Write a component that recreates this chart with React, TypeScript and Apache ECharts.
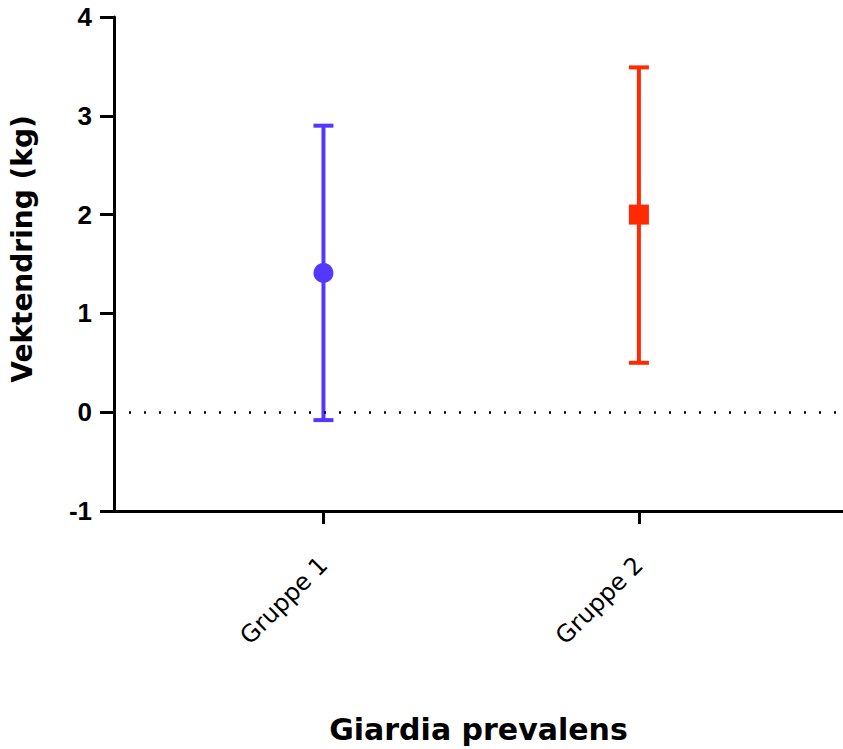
import React, { useEffect, useRef } from "react";
import * as echarts from "echarts";

const groups = ["Gruppe 1", "Gruppe 2"];
const positions = [1, 2];
const means = [1.41, 2.0];
const lower = [-0.08, 0.5];
const upper = [2.9, 3.49];
const colors = ["#5538FF", "#FF2A00"];
const symbols = ["circle", "rect"];
const yTicks = [-1, 0, 1, 2, 3, 4];

export default function App() {
  const ref = useRef<HTMLDivElement>(null);
  useEffect(() => {
    if (!ref.current) return;
    const chart = echarts.init(ref.current, null, { renderer: "svg" });
    const errData = positions.map((p, i) => [p, lower[i], upper[i], i]);
    const option: any = {
      animation: false,
      backgroundColor: "#fff",
      grid: { left: 108, right: 0, top: 17, bottom: 235, containLabel: false },
      xAxis: {
        type: "value",
        min: 0.336,
        max: 2.647,
        splitLine: { show: false },
        axisLine: { show: true, onZero: false, lineStyle: { color: "#000", width: 3 } },
        axisTick: { show: true, customValues: positions, length: 13, lineStyle: { color: "#000", width: 3 } },
        axisLabel: {
          customValues: positions,
          formatter: (v: number) => groups[positions.indexOf(Math.round(v))] ?? "",
          rotate: 45,
          fontSize: 24,
          fontFamily: "DejaVu Sans",
          color: "#000",
          margin: 50,
        },
        name: "Giardia prevalens",
        nameLocation: "middle",
        nameGap: 203,
        nameTextStyle: { fontSize: 30, fontWeight: "bold", fontFamily: "DejaVu Sans", color: "#000" },
      },
      yAxis: {
        type: "value",
        min: yTicks[0],
        max: yTicks[yTicks.length - 1],
        interval: 1,
        splitLine: { show: false },
        axisLine: { show: true, onZero: false, lineStyle: { color: "#000", width: 3 } },
        axisTick: { show: true, length: 14, lineStyle: { color: "#000", width: 3 } },
        axisLabel: {
          fontSize: 26,
          fontWeight: "bold",
          fontFamily: "Liberation Sans",
          color: "#000",
          margin: 22,
        },
        name: "Vektendring (kg)",
        nameLocation: "middle",
        nameGap: 78,
        nameTextStyle: {
          fontSize: 28,
          fontWeight: "bold",
          fontFamily: "DejaVu Sans",
          color: "#000",
          padding: [0, 0, 0, 30],
        },
      },
      series: [
        {
          type: "line",
          data: [],
          silent: true,
          markLine: {
            silent: true,
            symbol: "none",
            label: { show: false },
            lineStyle: { color: "#000", width: 2.5, type: [2, 13] },
            data: [{ yAxis: 0 }],
          },
        },
        {
          type: "custom",
          data: errData,
          renderItem: (params: any, api: any) => {
            const x = api.value(0);
            const lo = api.coord([x, api.value(1)]);
            const hi = api.coord([x, api.value(2)]);
            const c = colors[api.value(3)];
            const half = 10;
            const style = { stroke: c, lineWidth: 4 };
            return {
              type: "group",
              children: [
                { type: "line", shape: { x1: lo[0], y1: lo[1], x2: hi[0], y2: hi[1] }, style },
                { type: "line", shape: { x1: lo[0] - half, y1: lo[1], x2: lo[0] + half, y2: lo[1] }, style },
                { type: "line", shape: { x1: hi[0] - half, y1: hi[1], x2: hi[0] + half, y2: hi[1] }, style },
              ],
            };
          },
          z: 3,
        },
        ...positions.map((p, i) => ({
          type: "scatter",
          data: [[p, means[i]]],
          symbol: symbols[i],
          symbolSize: 20,
          itemStyle: { color: colors[i], opacity: 1 },
          z: 4,
        })),
      ],
    };
    chart.setOption(option);
    return () => chart.dispose();
  }, []);
  return <div ref={ref} style={{ width: 843, height: 749, position: "absolute", left: 0, top: 0 }} />;
}
